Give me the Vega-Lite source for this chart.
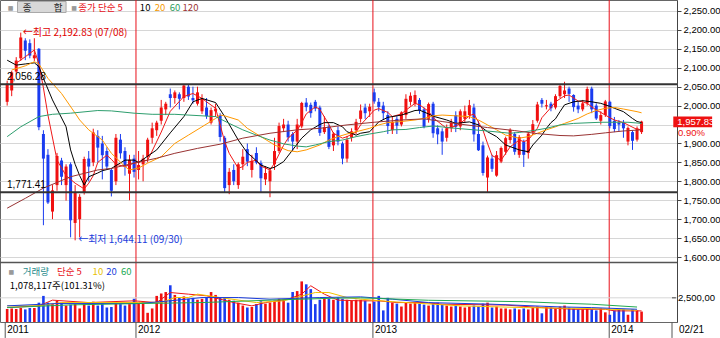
{
"$schema":"https://vega.github.io/schema/vega-lite/v6.json",
"width":677,"height":322,
"autosize":{"type":"none"},
"padding":{"left":0,"top":0,"right":43,"bottom":16},
"background":"#ffffff",
"config":{"view":{"stroke":"#666","strokeWidth":1}},
"datasets":{
"ohlc":[
{"d":"2011-06-17","o":2010,"h":2066,"l":2000,"c":2058,"v":1350000},
{"d":"2011-06-24","o":2040,"h":2092,"l":2025,"c":2088,"v":1400000},
{"d":"2011-07-01","o":2090,"h":2128,"l":2082,"c":2119,"v":1350000},
{"d":"2011-07-08","o":2125,"h":2192.83,"l":2118,"c":2180,"v":1450000},
{"d":"2011-07-15","o":2172,"h":2178,"l":2120,"c":2145,"v":1300000},
{"d":"2011-07-22","o":2165,"h":2175,"l":2125,"c":2132,"v":1450000},
{"d":"2011-07-29","o":2125,"h":2178,"l":2118,"c":2133,"v":1450000},
{"d":"2011-08-05","o":2150,"h":2152,"l":1935,"c":1943,"v":2000000},
{"d":"2011-08-12","o":1925,"h":1935,"l":1684,"c":1860,"v":2700000},
{"d":"2011-08-19","o":1870,"h":1885,"l":1740,"c":1744,"v":2000000},
{"d":"2011-08-26","o":1720,"h":1790,"l":1700,"c":1776,"v":1850000},
{"d":"2011-09-02","o":1790,"h":1875,"l":1775,"c":1867,"v":2200000},
{"d":"2011-09-09","o":1855,"h":1862,"l":1790,"c":1812,"v":2000000},
{"d":"2011-09-16","o":1790,"h":1845,"l":1749,"c":1839,"v":1700000},
{"d":"2011-09-23","o":1845,"h":1850,"l":1652,"c":1697,"v":1800000},
{"d":"2011-09-30","o":1690,"h":1790,"l":1644.11,"c":1769,"v":1850000},
{"d":"2011-10-07","o":1700,"h":1766,"l":1652,"c":1759,"v":1400000},
{"d":"2011-10-14","o":1770,"h":1865,"l":1765,"c":1859,"v":1900000},
{"d":"2011-10-21","o":1860,"h":1880,"l":1800,"c":1839,"v":1700000},
{"d":"2011-10-28","o":1850,"h":1939,"l":1840,"c":1929,"v":2100000},
{"d":"2011-11-04","o":1920,"h":1935,"l":1850,"c":1889,"v":1700000},
{"d":"2011-11-11","o":1900,"h":1920,"l":1805,"c":1869,"v":1850000},
{"d":"2011-11-18","o":1880,"h":1890,"l":1830,"c":1839,"v":1500000},
{"d":"2011-11-25","o":1830,"h":1835,"l":1760,"c":1775,"v":1550000},
{"d":"2011-12-02","o":1800,"h":1925,"l":1790,"c":1915,"v":2000000},
{"d":"2011-12-09","o":1910,"h":1925,"l":1860,"c":1874,"v":1850000},
{"d":"2011-12-16","o":1880,"h":1890,"l":1815,"c":1839,"v":1700000},
{"d":"2011-12-23","o":1820,"h":1870,"l":1750,"c":1857,"v":1850000},
{"d":"2011-12-30","o":1860,"h":1870,"l":1810,"c":1825,"v":2400000},
{"d":"2012-01-06","o":1830,"h":1880,"l":1805,"c":1843,"v":2000000},
{"d":"2012-01-13","o":1845,"h":1870,"l":1800,"c":1860,"v":2100000},
{"d":"2012-01-20","o":1865,"h":1915,"l":1850,"c":1910,"v":950000},
{"d":"2012-01-27","o":1915,"h":1955,"l":1900,"c":1940,"v":1400000},
{"d":"2012-02-03","o":1935,"h":1960,"l":1920,"c":1955,"v":2700000},
{"d":"2012-02-10","o":1960,"h":2015,"l":1950,"c":1995,"v":2950000},
{"d":"2012-02-17","o":1990,"h":2010,"l":1975,"c":2005,"v":3100000},
{"d":"2012-02-24","o":2030,"h":2045,"l":1995,"c":2020,"v":3800000},
{"d":"2012-03-02","o":2020,"h":2040,"l":2005,"c":2035,"v":2800000},
{"d":"2012-03-09","o":2030,"h":2035,"l":1990,"c":2018,"v":2550000},
{"d":"2012-03-16","o":2020,"h":2057,"l":2010,"c":2053,"v":2650000},
{"d":"2012-03-23","o":2050,"h":2055,"l":2015,"c":2024,"v":2400000},
{"d":"2012-03-30","o":2020,"h":2050,"l":2005,"c":2014,"v":2500000},
{"d":"2012-04-06","o":2005,"h":2050,"l":2000,"c":2035,"v":2300000},
{"d":"2012-04-13","o":1985,"h":2030,"l":1978,"c":2018,"v":2400000},
{"d":"2012-04-20","o":1995,"h":2020,"l":1965,"c":1972,"v":2550000},
{"d":"2012-04-27","o":1955,"h":1995,"l":1950,"c":1988,"v":3100000},
{"d":"2012-05-04","o":1985,"h":2005,"l":1970,"c":1992,"v":2800000},
{"d":"2012-05-11","o":1975,"h":1980,"l":1905,"c":1917,"v":2500000},
{"d":"2012-05-18","o":1915,"h":1920,"l":1770,"c":1782,"v":2500000},
{"d":"2012-05-25","o":1790,"h":1835,"l":1766,"c":1825,"v":2300000},
{"d":"2012-06-01","o":1830,"h":1845,"l":1790,"c":1800,"v":2200000},
{"d":"2012-06-08","o":1790,"h":1850,"l":1780,"c":1845,"v":2000000},
{"d":"2012-06-15","o":1845,"h":1885,"l":1830,"c":1865,"v":1700000},
{"d":"2012-06-22","o":1885,"h":1900,"l":1840,"c":1852,"v":1500000},
{"d":"2012-06-29","o":1830,"h":1870,"l":1810,"c":1854,"v":1550000},
{"d":"2012-07-06","o":1875,"h":1890,"l":1845,"c":1850,"v":1850000},
{"d":"2012-07-13","o":1848,"h":1855,"l":1770,"c":1808,"v":2150000},
{"d":"2012-07-20","o":1805,"h":1840,"l":1790,"c":1822,"v":1900000},
{"d":"2012-07-27","o":1800,"h":1835,"l":1758,"c":1829,"v":2000000},
{"d":"2012-08-03","o":1845,"h":1915,"l":1830,"c":1880,"v":2200000},
{"d":"2012-08-10","o":1880,"h":1955,"l":1875,"c":1946,"v":2400000},
{"d":"2012-08-17","o":1940,"h":1965,"l":1930,"c":1950,"v":2300000},
{"d":"2012-08-24","o":1950,"h":1960,"l":1905,"c":1916,"v":2000000},
{"d":"2012-08-31","o":1925,"h":1930,"l":1880,"c":1905,"v":3100000},
{"d":"2012-09-07","o":1905,"h":1965,"l":1885,"c":1950,"v":3200000},
{"d":"2012-09-14","o":1945,"h":2010,"l":1940,"c":2007,"v":4200000},
{"d":"2012-09-21","o":2008,"h":2020,"l":1985,"c":1996,"v":3900000},
{"d":"2012-09-28","o":2002,"h":2008,"l":1968,"c":1980,"v":3400000},
{"d":"2012-10-05","o":2010,"h":2015,"l":1985,"c":1992,"v":1850000},
{"d":"2012-10-12","o":1995,"h":2000,"l":1920,"c":1928,"v":2300000},
{"d":"2012-10-19","o":1930,"h":1972,"l":1925,"c":1943,"v":2500000},
{"d":"2012-10-26","o":1945,"h":1950,"l":1885,"c":1891,"v":2400000},
{"d":"2012-11-02","o":1895,"h":1930,"l":1880,"c":1926,"v":2300000},
{"d":"2012-11-09","o":1935,"h":1945,"l":1895,"c":1905,"v":2550000},
{"d":"2012-11-16","o":1900,"h":1905,"l":1845,"c":1860,"v":2400000},
{"d":"2012-11-23","o":1860,"h":1920,"l":1850,"c":1910,"v":2300000},
{"d":"2012-11-30","o":1915,"h":1940,"l":1905,"c":1932,"v":2200000},
{"d":"2012-12-07","o":1935,"h":1965,"l":1925,"c":1957,"v":2300000},
{"d":"2012-12-14","o":1965,"h":2003,"l":1955,"c":1987,"v":2300000},
{"d":"2012-12-21","o":1995,"h":2005,"l":1965,"c":1980,"v":2200000},
{"d":"2012-12-28","o":1985,"h":2005,"l":1970,"c":1997,"v":1900000},
{"d":"2013-01-04","o":2035,"h":2045,"l":2005,"c":2011,"v":2100000},
{"d":"2013-01-11","o":2010,"h":2020,"l":1985,"c":1996,"v":2700000},
{"d":"2013-01-18","o":2000,"h":2010,"l":1962,"c":1980,"v":1200000},
{"d":"2013-01-25","o":1975,"h":1985,"l":1925,"c":1946,"v":2500000},
{"d":"2013-02-01","o":1935,"h":1970,"l":1925,"c":1957,"v":2000000},
{"d":"2013-02-08","o":1965,"h":1972,"l":1925,"c":1947,"v":1900000},
{"d":"2013-02-15","o":1950,"h":1985,"l":1945,"c":1982,"v":1600000},
{"d":"2013-02-22","o":1975,"h":2030,"l":1965,"c":2018,"v":2000000},
{"d":"2013-03-01","o":2010,"h":2035,"l":2000,"c":2026,"v":1900000},
{"d":"2013-03-08","o":2005,"h":2040,"l":1998,"c":2028,"v":2000000},
{"d":"2013-03-15","o":2015,"h":2020,"l":1978,"c":1987,"v":1900000},
{"d":"2013-03-22","o":1990,"h":1995,"l":1940,"c":1944,"v":1800000},
{"d":"2013-03-29","o":1965,"h":2008,"l":1955,"c":2004,"v":1700000},
{"d":"2013-04-05","o":2005,"h":2010,"l":1915,"c":1927,"v":1900000},
{"d":"2013-04-12","o":1940,"h":1948,"l":1898,"c":1924,"v":2000000},
{"d":"2013-04-19","o":1932,"h":1940,"l":1870,"c":1905,"v":1800000},
{"d":"2013-04-26","o":1915,"h":1950,"l":1905,"c":1940,"v":1700000},
{"d":"2013-05-03","o":1940,"h":1965,"l":1930,"c":1954,"v":1600000},
{"d":"2013-05-10","o":1975,"h":1985,"l":1930,"c":1944,"v":1700000},
{"d":"2013-05-17","o":1945,"h":1990,"l":1935,"c":1985,"v":1600000},
{"d":"2013-05-24","o":1965,"h":2000,"l":1955,"c":1985,"v":1500000},
{"d":"2013-05-31","o":1975,"h":2015,"l":1965,"c":2001,"v":1600000},
{"d":"2013-06-07","o":1995,"h":2005,"l":1905,"c":1924,"v":1700000},
{"d":"2013-06-14","o":1925,"h":1960,"l":1880,"c":1882,"v":1600000},
{"d":"2013-06-21","o":1895,"h":1905,"l":1815,"c":1822,"v":1900000},
{"d":"2013-06-28","o":1810,"h":1868,"l":1770,"c":1863,"v":2000000},
{"d":"2013-07-05","o":1860,"h":1870,"l":1825,"c":1833,"v":1500000},
{"d":"2013-07-12","o":1815,"h":1880,"l":1812,"c":1869,"v":1600000},
{"d":"2013-07-19","o":1852,"h":1892,"l":1848,"c":1888,"v":1400000},
{"d":"2013-07-26","o":1878,"h":1918,"l":1870,"c":1914,"v":1400000},
{"d":"2013-08-02","o":1909,"h":1940,"l":1900,"c":1936,"v":1300000},
{"d":"2013-08-09","o":1925,"h":1930,"l":1870,"c":1878,"v":1400000},
{"d":"2013-08-16","o":1870,"h":1922,"l":1862,"c":1917,"v":1300000},
{"d":"2013-08-23","o":1905,"h":1910,"l":1838,"c":1870,"v":1400000},
{"d":"2013-08-30","o":1875,"h":1930,"l":1860,"c":1926,"v":1300000},
{"d":"2013-09-06","o":1930,"h":1962,"l":1925,"c":1951,"v":1500000},
{"d":"2013-09-13","o":1960,"h":2010,"l":1955,"c":2003,"v":1600000},
{"d":"2013-09-20","o":2015,"h":2020,"l":1995,"c":2005,"v":900000},
{"d":"2013-09-27","o":1998,"h":2015,"l":1990,"c":2001,"v":1600000},
{"d":"2013-10-04","o":2005,"h":2010,"l":1985,"c":1993,"v":1500000},
{"d":"2013-10-11","o":1995,"h":2030,"l":1990,"c":2025,"v":1400000},
{"d":"2013-10-18","o":2025,"h":2055,"l":2020,"c":2052,"v":1600000},
{"d":"2013-10-25","o":2030,"h":2063,"l":2020,"c":2040,"v":1700000},
{"d":"2013-11-01","o":2045,"h":2050,"l":2010,"c":2031,"v":1500000},
{"d":"2013-11-08","o":2028,"h":2030,"l":1984,"c":1996,"v":1400000},
{"d":"2013-11-15","o":2000,"h":2010,"l":1980,"c":1990,"v":1300000},
{"d":"2013-11-22","o":1990,"h":2015,"l":1985,"c":2006,"v":1300000},
{"d":"2013-11-29","o":2006,"h":2050,"l":2000,"c":2044,"v":1400000},
{"d":"2013-12-06","o":2045,"h":2050,"l":1980,"c":1990,"v":1300000},
{"d":"2013-12-13","o":2000,"h":2006,"l":1962,"c":1966,"v":1200000},
{"d":"2013-12-20","o":1960,"h":1985,"l":1950,"c":1975,"v":1400000},
{"d":"2013-12-27","o":1975,"h":2015,"l":1970,"c":2011,"v":1000000},
{"d":"2014-01-03","o":2010,"h":2013,"l":1940,"c":1946,"v":750000},
{"d":"2014-01-10","o":1960,"h":1970,"l":1930,"c":1938,"v":1200000},
{"d":"2014-01-17","o":1955,"h":1962,"l":1932,"c":1950,"v":1300000},
{"d":"2014-01-24","o":1955,"h":1962,"l":1915,"c":1940,"v":1300000},
{"d":"2014-01-31","o":1905,"h":1945,"l":1895,"c":1941,"v":750000},
{"d":"2014-02-07","o":1930,"h":1935,"l":1883,"c":1907,"v":1300000},
{"d":"2014-02-14","o":1910,"h":1945,"l":1905,"c":1940,"v":1200000},
{"d":"2014-02-21","o":1930,"h":1960,"l":1925,"c":1957.83,"v":1078117}
],
"ma":[
{"d":"2011-07-01","s":"5","v":2112},{"d":"2011-07-15","s":"5","v":2129},{"d":"2011-07-29","s":"5","v":2147},{"d":"2011-08-05","s":"5","v":2110},{"d":"2011-08-12","s":"5","v":2047},{"d":"2011-08-19","s":"5","v":1975},{"d":"2011-09-02","s":"5","v":1856},{"d":"2011-09-16","s":"5","v":1815},{"d":"2011-09-23","s":"5","v":1805},{"d":"2011-09-30","s":"5","v":1795},{"d":"2011-10-14","s":"5","v":1780},{"d":"2011-10-21","s":"5","v":1795},{"d":"2011-10-28","s":"5","v":1815},{"d":"2011-11-04","s":"5","v":1850},{"d":"2011-11-18","s":"5","v":1869},{"d":"2011-11-25","s":"5","v":1858},{"d":"2011-12-02","s":"5","v":1845},{"d":"2011-12-16","s":"5","v":1839},{"d":"2011-12-30","s":"5","v":1848},{"d":"2012-01-20","s":"5","v":1856},{"d":"2012-01-27","s":"5","v":1880},{"d":"2012-02-10","s":"5","v":1930},{"d":"2012-02-24","s":"5","v":1985},{"d":"2012-03-16","s":"5","v":2024},{"d":"2012-03-30","s":"5","v":2032},{"d":"2012-04-13","s":"5","v":2019},{"d":"2012-04-20","s":"5","v":2010},{"d":"2012-05-04","s":"5","v":1993},{"d":"2012-05-18","s":"5","v":1905},{"d":"2012-05-25","s":"5","v":1874},{"d":"2012-06-08","s":"5","v":1834},{"d":"2012-06-15","s":"5","v":1839},{"d":"2012-06-22","s":"5","v":1850},{"d":"2012-07-06","s":"5","v":1856},{"d":"2012-07-13","s":"5","v":1840},{"d":"2012-07-27","s":"5","v":1830},{"d":"2012-08-03","s":"5","v":1848},{"d":"2012-08-17","s":"5","v":1895},{"d":"2012-08-24","s":"5","v":1914},{"d":"2012-09-07","s":"5","v":1935},{"d":"2012-09-14","s":"5","v":1955},{"d":"2012-09-21","s":"5","v":1978},{"d":"2012-10-05","s":"5","v":1997},{"d":"2012-10-12","s":"5","v":1990},{"d":"2012-10-26","s":"5","v":1950},{"d":"2012-11-02","s":"5","v":1927},{"d":"2012-11-16","s":"5","v":1914},{"d":"2012-11-23","s":"5","v":1918},{"d":"2012-12-07","s":"5","v":1930},{"d":"2012-12-14","s":"5","v":1949},{"d":"2012-12-28","s":"5","v":1975},{"d":"2013-01-04","s":"5","v":1988},{"d":"2013-01-11","s":"5","v":1992},{"d":"2013-01-25","s":"5","v":1982},{"d":"2013-02-01","s":"5","v":1971},{"d":"2013-02-15","s":"5","v":1978},{"d":"2013-02-22","s":"5","v":1988},{"d":"2013-03-08","s":"5","v":2006},{"d":"2013-03-15","s":"5","v":2002},{"d":"2013-03-29","s":"5","v":1985},{"d":"2013-04-05","s":"5","v":1968},{"d":"2013-04-19","s":"5","v":1949},{"d":"2013-04-26","s":"5","v":1940},{"d":"2013-05-10","s":"5","v":1946},{"d":"2013-05-17","s":"5","v":1953},{"d":"2013-05-31","s":"5","v":1973},{"d":"2013-06-07","s":"5","v":1978},{"d":"2013-06-21","s":"5","v":1935},{"d":"2013-06-28","s":"5","v":1900},{"d":"2013-07-05","s":"5","v":1868},{"d":"2013-07-19","s":"5","v":1856},{"d":"2013-08-02","s":"5","v":1891},{"d":"2013-08-16","s":"5","v":1909},{"d":"2013-08-23","s":"5","v":1905},{"d":"2013-08-30","s":"5","v":1909},{"d":"2013-09-13","s":"5","v":1940},{"d":"2013-09-20","s":"5","v":1968},{"d":"2013-10-04","s":"5","v":1995},{"d":"2013-10-11","s":"5","v":2010},{"d":"2013-10-25","s":"5","v":2026},{"d":"2013-11-01","s":"5","v":2028},{"d":"2013-11-15","s":"5","v":2012},{"d":"2013-11-22","s":"5","v":2010},{"d":"2013-11-29","s":"5","v":2006},{"d":"2013-12-13","s":"5","v":1988},{"d":"2013-12-20","s":"5","v":1982},{"d":"2014-01-03","s":"5","v":1968},{"d":"2014-01-10","s":"5","v":1962},{"d":"2014-01-24","s":"5","v":1955},{"d":"2014-01-31","s":"5","v":1949},{"d":"2014-02-14","s":"5","v":1937},{"d":"2014-02-21","s":"5","v":1937},
{"d":"2011-06-17","s":"10","v":2120},{"d":"2011-07-01","s":"10","v":2107},{"d":"2011-07-15","s":"10","v":2110},{"d":"2011-07-29","s":"10","v":2113},{"d":"2011-08-05","s":"10","v":2103},{"d":"2011-08-12","s":"10","v":2072},{"d":"2011-08-26","s":"10","v":2015},{"d":"2011-09-16","s":"10","v":1944},{"d":"2011-09-23","s":"10","v":1883},{"d":"2011-09-30","s":"10","v":1845},{"d":"2011-10-07","s":"10","v":1815},{"d":"2011-10-14","s":"10","v":1790},{"d":"2011-10-21","s":"10","v":1812},{"d":"2011-11-04","s":"10","v":1822},{"d":"2011-11-11","s":"10","v":1828},{"d":"2011-11-25","s":"10","v":1834},{"d":"2011-12-16","s":"10","v":1856},{"d":"2011-12-30","s":"10","v":1856},{"d":"2012-01-06","s":"10","v":1850},{"d":"2012-01-13","s":"10","v":1858},{"d":"2012-02-03","s":"10","v":1883},{"d":"2012-02-24","s":"10","v":1928},{"d":"2012-03-16","s":"10","v":1971},{"d":"2012-03-30","s":"10","v":2010},{"d":"2012-04-13","s":"10","v":2019},{"d":"2012-05-04","s":"10","v":2008},{"d":"2012-05-18","s":"10","v":1971},{"d":"2012-06-08","s":"10","v":1909},{"d":"2012-06-22","s":"10","v":1875},{"d":"2012-06-29","s":"10","v":1865},{"d":"2012-07-13","s":"10","v":1843},{"d":"2012-07-27","s":"10","v":1834},{"d":"2012-08-03","s":"10","v":1837},{"d":"2012-08-17","s":"10","v":1852},{"d":"2012-08-31","s":"10","v":1883},{"d":"2012-09-14","s":"10","v":1914},{"d":"2012-09-28","s":"10","v":1936},{"d":"2012-10-12","s":"10","v":1950},{"d":"2012-10-19","s":"10","v":1955},{"d":"2012-11-02","s":"10","v":1955},{"d":"2012-11-16","s":"10","v":1944},{"d":"2012-11-23","s":"10","v":1931},{"d":"2012-12-07","s":"10","v":1922},{"d":"2012-12-14","s":"10","v":1927},{"d":"2012-12-28","s":"10","v":1931},{"d":"2013-01-04","s":"10","v":1944},{"d":"2013-01-11","s":"10","v":1957},{"d":"2013-01-25","s":"10","v":1969},{"d":"2013-02-15","s":"10","v":1975},{"d":"2013-03-08","s":"10","v":1987},{"d":"2013-03-15","s":"10","v":1988},{"d":"2013-03-29","s":"10","v":1978},{"d":"2013-04-05","s":"10","v":1972},{"d":"2013-04-26","s":"10","v":1962},{"d":"2013-05-10","s":"10","v":1953},{"d":"2013-05-31","s":"10","v":1957},{"d":"2013-06-14","s":"10","v":1949},{"d":"2013-06-28","s":"10","v":1931},{"d":"2013-07-12","s":"10","v":1918},{"d":"2013-07-26","s":"10","v":1896},{"d":"2013-08-16","s":"10","v":1883},{"d":"2013-08-30","s":"10","v":1878},{"d":"2013-09-06","s":"10","v":1896},{"d":"2013-09-20","s":"10","v":1922},{"d":"2013-09-27","s":"10","v":1940},{"d":"2013-10-04","s":"10","v":1955},{"d":"2013-10-11","s":"10","v":1965},{"d":"2013-10-18","s":"10","v":1984},{"d":"2013-10-25","s":"10","v":2002},{"d":"2013-11-08","s":"10","v":2010},{"d":"2013-11-22","s":"10","v":2013},{"d":"2013-12-06","s":"10","v":2010},{"d":"2013-12-20","s":"10","v":2006},{"d":"2014-01-03","s":"10","v":1998},{"d":"2014-01-10","s":"10","v":1993},{"d":"2014-01-24","s":"10","v":1984},{"d":"2014-02-07","s":"10","v":1966},{"d":"2014-02-14","s":"10","v":1958},{"d":"2014-02-21","s":"10","v":1955},
{"d":"2011-06-24","s":"20","v":2094},{"d":"2011-07-15","s":"20","v":2105},{"d":"2011-07-29","s":"20","v":2116},{"d":"2011-08-05","s":"20","v":2110},{"d":"2011-08-19","s":"20","v":2072},{"d":"2011-09-09","s":"20","v":2032},{"d":"2011-09-30","s":"20","v":1980},{"d":"2011-10-07","s":"20","v":1962},{"d":"2011-10-21","s":"20","v":1936},{"d":"2011-11-11","s":"20","v":1909},{"d":"2011-11-25","s":"20","v":1874},{"d":"2011-12-16","s":"20","v":1839},{"d":"2011-12-23","s":"20","v":1830},{"d":"2012-01-06","s":"20","v":1835},{"d":"2012-01-20","s":"20","v":1848},{"d":"2012-02-10","s":"20","v":1865},{"d":"2012-03-02","s":"20","v":1900},{"d":"2012-03-23","s":"20","v":1922},{"d":"2012-04-13","s":"20","v":1944},{"d":"2012-05-04","s":"20","v":1966},{"d":"2012-05-11","s":"20","v":1975},{"d":"2012-05-18","s":"20","v":1973},{"d":"2012-06-08","s":"20","v":1962},{"d":"2012-06-22","s":"20","v":1940},{"d":"2012-07-13","s":"20","v":1918},{"d":"2012-08-03","s":"20","v":1896},{"d":"2012-08-24","s":"20","v":1881},{"d":"2012-09-07","s":"20","v":1878},{"d":"2012-09-21","s":"20","v":1883},{"d":"2012-10-12","s":"20","v":1896},{"d":"2012-10-26","s":"20","v":1909},{"d":"2012-11-09","s":"20","v":1918},{"d":"2012-11-23","s":"20","v":1925},{"d":"2012-12-07","s":"20","v":1931},{"d":"2012-12-28","s":"20","v":1940},{"d":"2013-01-11","s":"20","v":1949},{"d":"2013-01-25","s":"20","v":1955},{"d":"2013-02-15","s":"20","v":1958},{"d":"2013-03-08","s":"20","v":1962},{"d":"2013-03-22","s":"20","v":1966},{"d":"2013-04-05","s":"20","v":1973},{"d":"2013-04-19","s":"20","v":1975},{"d":"2013-05-10","s":"20","v":1973},{"d":"2013-05-31","s":"20","v":1971},{"d":"2013-06-14","s":"20","v":1962},{"d":"2013-06-28","s":"20","v":1949},{"d":"2013-07-12","s":"20","v":1936},{"d":"2013-07-26","s":"20","v":1922},{"d":"2013-08-16","s":"20","v":1914},{"d":"2013-08-30","s":"20","v":1918},{"d":"2013-09-13","s":"20","v":1927},{"d":"2013-09-27","s":"20","v":1936},{"d":"2013-10-11","s":"20","v":1944},{"d":"2013-10-25","s":"20","v":1953},{"d":"2013-11-15","s":"20","v":1966},{"d":"2013-11-29","s":"20","v":1978},{"d":"2013-12-13","s":"20","v":1987},{"d":"2013-12-27","s":"20","v":1993},{"d":"2014-01-10","s":"20","v":1995},{"d":"2014-01-24","s":"20","v":1991},{"d":"2014-02-14","s":"20","v":1984},{"d":"2014-02-21","s":"20","v":1981},
{"d":"2011-06-17","s":"60","v":1918},{"d":"2011-07-08","s":"60","v":1944},{"d":"2011-08-05","s":"60","v":1971},{"d":"2011-08-26","s":"60","v":1977},{"d":"2011-09-23","s":"60","v":1980},{"d":"2011-11-04","s":"60","v":1987},{"d":"2011-11-25","s":"60","v":1986},{"d":"2011-12-30","s":"60","v":1980},{"d":"2012-01-27","s":"60","v":1977},{"d":"2012-03-02","s":"60","v":1977},{"d":"2012-04-13","s":"60","v":1973},{"d":"2012-05-04","s":"60","v":1971},{"d":"2012-05-25","s":"60","v":1953},{"d":"2012-06-15","s":"60","v":1936},{"d":"2012-07-06","s":"60","v":1922},{"d":"2012-07-27","s":"60","v":1909},{"d":"2012-08-17","s":"60","v":1899},{"d":"2012-09-07","s":"60","v":1893},{"d":"2012-09-21","s":"60","v":1891},{"d":"2012-10-05","s":"60","v":1896},{"d":"2012-10-26","s":"60","v":1905},{"d":"2012-11-16","s":"60","v":1909},{"d":"2012-12-07","s":"60","v":1918},{"d":"2012-12-28","s":"60","v":1925},{"d":"2013-01-18","s":"60","v":1931},{"d":"2013-02-01","s":"60","v":1936},{"d":"2013-02-22","s":"60","v":1937},{"d":"2013-03-15","s":"60","v":1942},{"d":"2013-04-05","s":"60","v":1946},{"d":"2013-05-10","s":"60","v":1940},{"d":"2013-06-21","s":"60","v":1934},{"d":"2013-08-02","s":"60","v":1927},{"d":"2013-08-16","s":"60","v":1929},{"d":"2013-09-06","s":"60","v":1934},{"d":"2013-09-27","s":"60","v":1940},{"d":"2013-10-18","s":"60","v":1949},{"d":"2013-11-08","s":"60","v":1953},{"d":"2013-12-20","s":"60","v":1956},{"d":"2014-01-31","s":"60","v":1956},{"d":"2014-02-21","s":"60","v":1953},
{"d":"2011-06-17","s":"120","v":1729},{"d":"2011-07-15","s":"120","v":1755},{"d":"2011-08-12","s":"120","v":1782},{"d":"2011-09-23","s":"120","v":1812},{"d":"2011-11-04","s":"120","v":1830},{"d":"2011-11-25","s":"120","v":1834},{"d":"2011-12-30","s":"120","v":1848},{"d":"2012-02-03","s":"120","v":1861},{"d":"2012-03-02","s":"120","v":1874},{"d":"2012-04-06","s":"120","v":1887},{"d":"2012-05-11","s":"120","v":1898},{"d":"2012-06-15","s":"120","v":1914},{"d":"2012-07-27","s":"120","v":1927},{"d":"2012-09-07","s":"120","v":1936},{"d":"2012-10-12","s":"120","v":1940},{"d":"2012-11-23","s":"120","v":1949},{"d":"2013-01-04","s":"120","v":1956},{"d":"2013-02-15","s":"120","v":1962},{"d":"2013-03-22","s":"120","v":1965},{"d":"2013-04-19","s":"120","v":1958},{"d":"2013-05-17","s":"120","v":1951},{"d":"2013-06-28","s":"120","v":1942},{"d":"2013-08-09","s":"120","v":1934},{"d":"2013-09-13","s":"120","v":1926},{"d":"2013-10-18","s":"120","v":1921},{"d":"2013-11-08","s":"120","v":1920},{"d":"2013-12-06","s":"120","v":1924},{"d":"2013-12-27","s":"120","v":1928},{"d":"2014-01-24","s":"120","v":1933},{"d":"2014-02-21","s":"120","v":1936}
],
"vma":[
{"d":"2011-06-17","s":"5","v":1490000},{"d":"2011-08-05","s":"5","v":1670000},{"d":"2011-08-26","s":"5","v":2260000},{"d":"2011-10-21","s":"5","v":2010000},{"d":"2011-12-30","s":"5","v":2190000},{"d":"2012-02-03","s":"5","v":2010000},{"d":"2012-02-24","s":"5","v":3050000},{"d":"2012-03-23","s":"5","v":2880000},{"d":"2012-04-20","s":"5","v":2710000},{"d":"2012-06-01","s":"5","v":2010000},{"d":"2012-06-29","s":"5","v":1670000},{"d":"2012-07-20","s":"5","v":2010000},{"d":"2012-08-24","s":"5","v":2360000},{"d":"2012-09-14","s":"5","v":2880000},{"d":"2012-09-28","s":"5","v":3750000},{"d":"2012-10-19","s":"5","v":2880000},{"d":"2012-11-09","s":"5","v":2260000},{"d":"2012-12-14","s":"5","v":2190000},{"d":"2013-01-11","s":"5","v":2190000},{"d":"2013-02-08","s":"5","v":2010000},{"d":"2013-03-22","s":"5","v":2010000},{"d":"2013-04-19","s":"5","v":1840000},{"d":"2013-07-26","s":"5","v":1750000},{"d":"2013-09-20","s":"5","v":1490000},{"d":"2013-11-08","s":"5","v":1320000},{"d":"2013-12-27","s":"5","v":1320000},{"d":"2014-01-10","s":"5","v":1150000},{"d":"2014-02-21","s":"5","v":1150000},
{"d":"2011-06-17","s":"10","v":1670000},{"d":"2011-08-05","s":"10","v":1670000},{"d":"2011-09-09","s":"10","v":2010000},{"d":"2011-11-11","s":"10","v":2010000},{"d":"2012-01-06","s":"10","v":2010000},{"d":"2012-02-10","s":"10","v":2010000},{"d":"2012-03-02","s":"10","v":2530000},{"d":"2012-03-23","s":"10","v":2530000},{"d":"2012-04-06","s":"10","v":2880000},{"d":"2012-05-11","s":"10","v":2530000},{"d":"2012-07-06","s":"10","v":2010000},{"d":"2012-08-17","s":"10","v":2190000},{"d":"2012-10-05","s":"10","v":3050000},{"d":"2012-10-26","s":"10","v":3050000},{"d":"2012-11-23","s":"10","v":2530000},{"d":"2012-12-14","s":"10","v":2360000},{"d":"2013-02-01","s":"10","v":2100000},{"d":"2013-05-17","s":"10","v":1670000},{"d":"2013-08-23","s":"10","v":1490000},{"d":"2013-12-06","s":"10","v":1390000},{"d":"2014-02-14","s":"10","v":1220000},
{"d":"2011-06-17","s":"20","v":1670000},{"d":"2011-09-02","s":"20","v":1910000},{"d":"2012-01-06","s":"20","v":1910000},{"d":"2012-02-24","s":"20","v":2190000},{"d":"2012-04-13","s":"20","v":2530000},{"d":"2012-06-08","s":"20","v":2530000},{"d":"2012-07-27","s":"20","v":2360000},{"d":"2012-10-12","s":"20","v":2530000},{"d":"2012-12-14","s":"20","v":2600000},{"d":"2013-02-01","s":"20","v":2360000},{"d":"2013-03-29","s":"20","v":2010000},{"d":"2013-07-05","s":"20","v":1840000},{"d":"2013-10-18","s":"20","v":1560000},{"d":"2013-12-06","s":"20","v":1490000},{"d":"2014-02-14","s":"20","v":1320000},
{"d":"2011-06-17","s":"60","v":1490000},{"d":"2011-09-23","s":"60","v":1770000},{"d":"2012-01-06","s":"60","v":1910000},{"d":"2012-04-13","s":"60","v":2010000},{"d":"2012-07-27","s":"60","v":2260000},{"d":"2012-11-02","s":"60","v":2460000},{"d":"2012-12-14","s":"60","v":2500000},{"d":"2013-03-29","s":"60","v":2250000},{"d":"2013-07-05","s":"60","v":2150000},{"d":"2013-08-23","s":"60","v":2100000},{"d":"2013-10-18","s":"60","v":1950000},{"d":"2013-12-06","s":"60","v":1840000},{"d":"2014-02-14","s":"60","v":1550000}
],
"years":[{"d":"2011-06-14","t":"2011"},{"d":"2012-01-02","t":"2012"},{"d":"2013-01-02","t":"2013"},{"d":"2014-01-02","t":"2014"}]
},
"layer":[
{"data":{"values":[{"d":"2012-01-02"},{"d":"2013-01-02"},{"d":"2014-01-02"}]},"mark":{"type":"rule","color":"#e8101a","strokeWidth":1},
 "encoding":{"x":{"field":"d","type":"temporal","scale":{"type":"utc","domain":[{"year":2011,"month":6,"date":13,"hours":16,"utc":true},{"year":2014,"month":4,"date":9,"utc":true}]},"axis":null}}},
{"data":{"name":"ohlc"},"mark":{"type":"rule","strokeWidth":1},
 "encoding":{"x":{"field":"d","type":"temporal","scale":{"type":"utc","domain":[{"year":2011,"month":6,"date":13,"hours":16,"utc":true},{"year":2014,"month":4,"date":9,"utc":true}]},"axis":null},
  "y":{"field":"l","type":"quantitative","scale":{"domain":[1428.3,2279],"nice":false,"zero":false},
   "axis":{"orient":"right","values":[1600,1650,1700,1750,1800,1850,1900,1950,2000,2050,2100,2150,2200,2250],"labelExpr":"datum.value == 1950 ? '' : format(datum.value, ',.2f')","title":null,"grid":true,"gridColor":"#d6d6d6","domainColor":"#444","tickColor":"#444","tickSize":4,"labelPadding":2,"labelFont":"Liberation Sans","labelFontSize":9.5,"labelColor":"#000","labelBaseline":"middle","labelFlush":false,"labelOverlap":false}},
  "y2":{"field":"h"},
  "color":{"condition":{"test":"datum.c >= datum.o","value":"#f01010"},"value":"#1a3cf0"}}},
{"data":{"name":"ohlc"},"mark":{"type":"bar","size":3},
 "encoding":{"x":{"field":"d","type":"temporal","scale":{"type":"utc","domain":[{"year":2011,"month":6,"date":13,"hours":16,"utc":true},{"year":2014,"month":4,"date":9,"utc":true}]},"axis":null},
  "y":{"field":"o","type":"quantitative","scale":{"domain":[1428.3,2279],"nice":false,"zero":false},"axis":null},
  "y2":{"field":"c"},
  "color":{"condition":{"test":"datum.c >= datum.o","value":"#f01010"},"value":"#1a3cf0"}}},
{"data":{"name":"ma"},"mark":{"type":"line"},
 "encoding":{"x":{"field":"d","type":"temporal","scale":{"type":"utc","domain":[{"year":2011,"month":6,"date":13,"hours":16,"utc":true},{"year":2014,"month":4,"date":9,"utc":true}]},"axis":null},
  "y":{"field":"v","type":"quantitative","scale":{"domain":[1428.3,2279],"nice":false,"zero":false},"axis":null},
  "color":{"field":"s","type":"nominal","scale":{"domain":["5","10","20","60","120"],"range":["#f01818","#000000","#ff9900","#2e9e6e","#993333"]},"legend":null},
  "strokeWidth":{"field":"s","type":"nominal","scale":{"domain":["5","10","20","60","120"],"range":[1,1,2,1,1.3]},"legend":null}}},
{"data":{"values":[{"p":2056.28},{"p":1771.41}]},"mark":{"type":"rule","color":"#333333","strokeWidth":2},
 "encoding":{"y":{"field":"p","type":"quantitative","scale":{"domain":[1428.3,2279],"nice":false,"zero":false},"axis":null}}},
{"data":{"values":[{"p":2056.28,"t":"2,056.28"},{"p":1771.41,"t":"1,771.41"}]},"mark":{"type":"text","align":"left","baseline":"bottom","dy":-2,"dx":2,"font":"Liberation Sans","fontSize":10,"color":"#000"},
 "encoding":{"x":{"datum":{"year":2011,"month":6,"date":13,"hours":16,"utc":true},"type":"temporal","scale":{"type":"utc","domain":[{"year":2011,"month":6,"date":13,"hours":16,"utc":true},{"year":2014,"month":4,"date":9,"utc":true}]},"axis":null},
  "y":{"field":"p","type":"quantitative","scale":{"domain":[1428.3,2279],"nice":false,"zero":false},"axis":null},
  "text":{"field":"t"}}},
{"data":{"values":[{}]},"mark":{"type":"rule","color":"#555555","strokeWidth":1.5},
 "encoding":{"y":{"datum":1585.5,"type":"quantitative","scale":{"domain":[1428.3,2279],"nice":false,"zero":false},"axis":null}}},
{"data":{"values":[{}]},"mark":{"type":"text","align":"left","baseline":"middle","dx":2,"font":"Noto Sans CJK KR","fontSize":10,"color":"#e00000"},
 "encoding":{"x":{"datum":{"year":2011,"month":7,"date":8,"utc":true},"type":"temporal","scale":{"type":"utc","domain":[{"year":2011,"month":6,"date":13,"hours":16,"utc":true},{"year":2014,"month":4,"date":9,"utc":true}]},"axis":null},
  "y":{"datum":2192.83,"type":"quantitative","scale":{"domain":[1428.3,2279],"nice":false,"zero":false},"axis":null},
  "text":{"value":"←최고 2,192.83 (07/08)"}}},
{"data":{"values":[{}]},"mark":{"type":"text","align":"left","baseline":"middle","dx":3,"font":"Noto Sans CJK KR","fontSize":10,"color":"#1a3cdc"},
 "encoding":{"x":{"datum":{"year":2011,"month":9,"date":30,"utc":true},"type":"temporal","scale":{"type":"utc","domain":[{"year":2011,"month":6,"date":13,"hours":16,"utc":true},{"year":2014,"month":4,"date":9,"utc":true}]},"axis":null},
  "y":{"datum":1644.11,"type":"quantitative","scale":{"domain":[1428.3,2279],"nice":false,"zero":false},"axis":null},
  "text":{"value":"←최저 1,644.11 (09/30)"}}},
{"data":{"values":[{}]},"mark":{"type":"rect","fill":"#d8d8d8","stroke":"#a8a8a8","strokeWidth":1},
 "encoding":{"x":{"datum":{"year":2011,"month":7,"date":3,"utc":true},"type":"temporal","scale":{"type":"utc","domain":[{"year":2011,"month":6,"date":13,"hours":16,"utc":true},{"year":2014,"month":4,"date":9,"utc":true}]},"axis":null},
  "x2":{"datum":{"year":2011,"month":9,"date":16,"utc":true}},
  "y":{"datum":2275,"type":"quantitative","scale":{"domain":[1428.3,2279],"nice":false,"zero":false},"axis":null},
  "y2":{"datum":2246}}},
{"data":{"values":[{"d":"2011-07-11","t":"종","k":"b"},{"d":"2011-08-28","t":"합","k":"b"},{"d":"2011-10-05","t":"종가 단순 5","k":"c"},{"d":"2012-01-08","t":"10","k":"d"},{"d":"2012-01-31","t":"20","k":"e"},{"d":"2012-02-23","t":"60","k":"f"},{"d":"2012-03-14","t":"120","k":"g"}]},
 "mark":{"type":"text","align":"left","baseline":"middle","font":"Noto Sans CJK KR","fontSize":9.5},
 "encoding":{"x":{"field":"d","type":"temporal","scale":{"type":"utc","domain":[{"year":2011,"month":6,"date":13,"hours":16,"utc":true},{"year":2014,"month":4,"date":9,"utc":true}]},"axis":null},
  "y":{"datum":2258.5,"type":"quantitative","scale":{"domain":[1428.3,2279],"nice":false,"zero":false},"axis":null},
  "text":{"field":"t"},
  "color":{"field":"k","type":"nominal","scale":{"domain":["b","c","d","e","f","g"],"range":["#222222","#e8141c","#000000","#f59a00","#2e9e5e","#993333"]},"legend":null}}},
{"data":{"values":[{"d":"2011-06-18"},{"d":"2011-09-24"}]},
 "mark":{"type":"text","align":"left","baseline":"middle","font":"DejaVu Sans","fontSize":6,"color":"#9a9a9a","text":"■"},
 "encoding":{"x":{"field":"d","type":"temporal","scale":{"type":"utc","domain":[{"year":2011,"month":6,"date":13,"hours":16,"utc":true},{"year":2014,"month":4,"date":9,"utc":true}]},"axis":null},
  "y":{"datum":2258.5,"type":"quantitative","scale":{"domain":[1428.3,2279],"nice":false,"zero":false},"axis":null}}},
{"data":{"values":[{}]},"mark":{"type":"rect","fill":"#ee1111"},
 "encoding":{"x":{"datum":{"year":2014,"month":4,"date":11,"utc":true},"type":"temporal","scale":{"type":"utc","domain":[{"year":2011,"month":6,"date":13,"hours":16,"utc":true},{"year":2014,"month":4,"date":9,"utc":true}]},"axis":null},
  "x2":{"datum":{"year":2014,"month":6,"date":10,"utc":true}},
  "y":{"datum":1971,"type":"quantitative","scale":{"domain":[1428.3,2279],"nice":false,"zero":false},"axis":null},
  "y2":{"datum":1943}}},
{"data":{"values":[{}]},"mark":{"type":"text","align":"left","baseline":"middle","dx":4,"font":"Liberation Sans","fontSize":9.5,"color":"#ffffff"},
 "encoding":{"x":{"datum":{"year":2014,"month":4,"date":11,"utc":true},"type":"temporal","scale":{"type":"utc","domain":[{"year":2011,"month":6,"date":13,"hours":16,"utc":true},{"year":2014,"month":4,"date":9,"utc":true}]},"axis":null},
  "y":{"datum":1957.83,"type":"quantitative","scale":{"domain":[1428.3,2279],"nice":false,"zero":false},"axis":null},
  "text":{"value":"1,957.83"}}},
{"data":{"values":[{}]},"mark":{"type":"text","align":"left","baseline":"middle","dx":6,"dy":11,"font":"Liberation Sans","fontSize":9.5,"color":"#ee1111"},
 "encoding":{"x":{"datum":{"year":2014,"month":4,"date":9,"utc":true},"type":"temporal","scale":{"type":"utc","domain":[{"year":2011,"month":6,"date":13,"hours":16,"utc":true},{"year":2014,"month":4,"date":9,"utc":true}]},"axis":null},
  "y":{"datum":1957.83,"type":"quantitative","scale":{"domain":[1428.3,2279],"nice":false,"zero":false},"axis":null},
  "text":{"value":"0.90%"}}},
{"data":{"values":[{}]},"mark":{"type":"rule","color":"#d6d6d6","strokeWidth":1},
 "encoding":{"y":{"datum":2500000,"type":"quantitative","scale":{"domain":[0,33310000],"nice":false,"zero":false},"axis":null}}},
{"data":{"name":"ohlc"},"mark":{"type":"bar","size":2.6},
 "encoding":{"x":{"field":"d","type":"temporal","scale":{"type":"utc","domain":[{"year":2011,"month":6,"date":13,"hours":16,"utc":true},{"year":2014,"month":4,"date":9,"utc":true}]},"axis":null},
  "y":{"field":"v","type":"quantitative","stack":null,"scale":{"domain":[0,33310000],"nice":false,"zero":false},"axis":null},
  "color":{"condition":{"test":"datum.c >= datum.o","value":"#f01010"},"value":"#1a3cf0"}}},
{"data":{"name":"vma"},"mark":{"type":"line","strokeWidth":1},
 "encoding":{"x":{"field":"d","type":"temporal","scale":{"type":"utc","domain":[{"year":2011,"month":6,"date":13,"hours":16,"utc":true},{"year":2014,"month":4,"date":9,"utc":true}]},"axis":null},
  "y":{"field":"v","type":"quantitative","scale":{"domain":[0,33310000],"nice":false,"zero":false},"axis":null},
  "color":{"field":"s","type":"nominal","scale":{"domain":["5","10","20","60"],"range":["#f01818","#f2c200","#1a3cdc","#20a850"]},"legend":null}}},
{"data":{"values":[{"d":"2011-07-11","t":"거래량","k":"b"},{"d":"2011-09-02","t":"단순 5","k":"c"},{"d":"2011-10-27","t":"10","k":"d"},{"d":"2011-11-17","t":"20","k":"e"},{"d":"2011-12-10","t":"60","k":"f"}]},
 "mark":{"type":"text","align":"left","baseline":"middle","font":"Noto Sans CJK KR","fontSize":9.5},
 "encoding":{"x":{"field":"d","type":"temporal","scale":{"type":"utc","domain":[{"year":2011,"month":6,"date":13,"hours":16,"utc":true},{"year":2014,"month":4,"date":9,"utc":true}]},"axis":null},
  "y":{"datum":5150000,"type":"quantitative","scale":{"domain":[0,33310000],"nice":false,"zero":false},"axis":null},
  "text":{"field":"t"},
  "color":{"field":"k","type":"nominal","scale":{"domain":["b","c","d","e","f"],"range":["#2a8c8c","#e8141c","#e8c000","#1a3cdc","#22aa55"]},"legend":null}}},
{"data":{"values":[{"d":"2011-06-19"}]},
 "mark":{"type":"text","align":"left","baseline":"middle","font":"DejaVu Sans","fontSize":6,"color":"#9a9a9a","text":"■"},
 "encoding":{"x":{"field":"d","type":"temporal","scale":{"type":"utc","domain":[{"year":2011,"month":6,"date":13,"hours":16,"utc":true},{"year":2014,"month":4,"date":9,"utc":true}]},"axis":null},
  "y":{"datum":5150000,"type":"quantitative","scale":{"domain":[0,33310000],"nice":false,"zero":false},"axis":null}}},
{"data":{"values":[{}]},"mark":{"type":"text","align":"left","baseline":"middle","font":"Noto Sans CJK KR","fontSize":9.5,"color":"#000"},
 "encoding":{"x":{"datum":{"year":2011,"month":6,"date":21,"utc":true},"type":"temporal","scale":{"type":"utc","domain":[{"year":2011,"month":6,"date":13,"hours":16,"utc":true},{"year":2014,"month":4,"date":9,"utc":true}]},"axis":null},
  "y":{"datum":3700000,"type":"quantitative","scale":{"domain":[0,33310000],"nice":false,"zero":false},"axis":null},
  "text":{"value":"1,078,117주(101.31%)"}}},
{"data":{"values":[{}]},"mark":{"type":"rule","color":"#444","strokeWidth":1},
 "encoding":{"x":{"datum":{"year":2014,"month":4,"date":9,"utc":true},"type":"temporal","scale":{"type":"utc","domain":[{"year":2011,"month":6,"date":13,"hours":16,"utc":true},{"year":2014,"month":4,"date":9,"utc":true}]},"axis":null},
  "x2":{"datum":{"year":2014,"month":4,"date":15,"utc":true}},
  "y":{"datum":2500000,"type":"quantitative","scale":{"domain":[0,33310000],"nice":false,"zero":false},"axis":null}}},
{"data":{"name":"years"},"mark":{"type":"rule","color":"#555","strokeWidth":1},
 "encoding":{"x":{"field":"d","type":"temporal","scale":{"type":"utc","domain":[{"year":2011,"month":6,"date":13,"hours":16,"utc":true},{"year":2014,"month":4,"date":9,"utc":true}]},"axis":null},
  "y":{"datum":0,"type":"quantitative","scale":{"domain":[0,33310000],"nice":false,"zero":false},"axis":null},
  "y2":{"datum":-1650000}}},
{"data":{"name":"years"},"mark":{"type":"text","align":"left","baseline":"middle","dx":2,"font":"Liberation Sans","fontSize":10,"color":"#000"},
 "encoding":{"x":{"field":"d","type":"temporal","scale":{"type":"utc","domain":[{"year":2011,"month":6,"date":13,"hours":16,"utc":true},{"year":2014,"month":4,"date":9,"utc":true}]},"axis":null},
  "y":{"datum":-827000,"type":"quantitative","scale":{"domain":[0,33310000],"nice":false,"zero":false},"axis":null},
  "text":{"field":"t"}}},
{"data":{"values":[{}]},"mark":{"type":"rule","color":"#555","strokeWidth":1},
 "encoding":{"x":{"datum":{"year":2014,"month":4,"date":9,"utc":true},"type":"temporal","scale":{"type":"utc","domain":[{"year":2011,"month":6,"date":13,"hours":16,"utc":true},{"year":2014,"month":4,"date":9,"utc":true}]},"axis":null},
  "y":{"datum":0,"type":"quantitative","scale":{"domain":[0,33310000],"nice":false,"zero":false},"axis":null},
  "y2":{"datum":-1650000}}},
{"data":{"values":[{}]},"mark":{"type":"text","align":"left","baseline":"middle","dx":6,"limit":38.5,"ellipsis":"\u200a","font":"Liberation Sans","fontSize":9.5,"color":"#000"},
 "encoding":{"x":{"datum":{"year":2014,"month":4,"date":9,"utc":true},"type":"temporal","scale":{"type":"utc","domain":[{"year":2011,"month":6,"date":13,"hours":16,"utc":true},{"year":2014,"month":4,"date":9,"utc":true}]},"axis":null},
  "y":{"datum":2500000,"type":"quantitative","scale":{"domain":[0,33310000],"nice":false,"zero":false},"axis":null},
  "text":{"value":"2,500,000"}}},
{"data":{"values":[{}]},"mark":{"type":"text","align":"left","baseline":"middle","dx":7,"font":"Liberation Sans","fontSize":10,"color":"#000"},
 "encoding":{"x":{"datum":{"year":2014,"month":4,"date":9,"utc":true},"type":"temporal","scale":{"type":"utc","domain":[{"year":2011,"month":6,"date":13,"hours":16,"utc":true},{"year":2014,"month":4,"date":9,"utc":true}]},"axis":null},
  "y":{"datum":-827000,"type":"quantitative","scale":{"domain":[0,33310000],"nice":false,"zero":false},"axis":null},
  "text":{"value":"02/21"}}}
],
"resolve":{"scale":{"y":"independent","color":"independent"}}
}
